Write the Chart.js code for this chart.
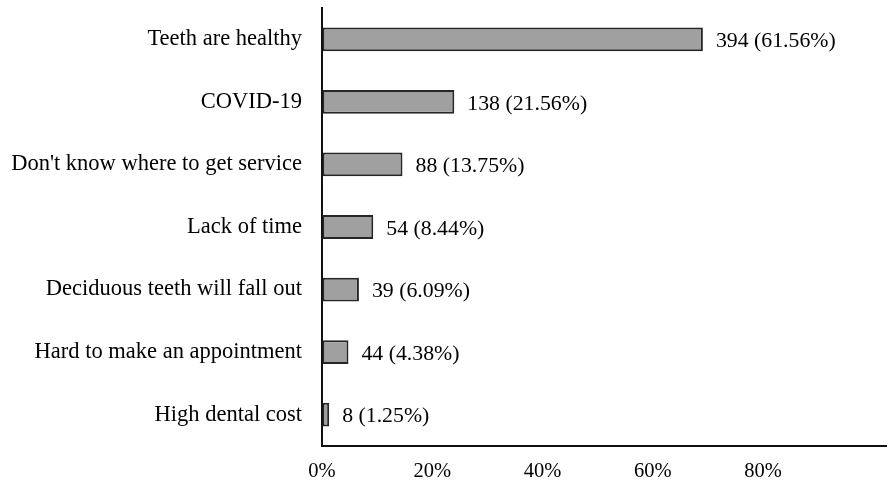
<!DOCTYPE html>
<html>
<head>
<meta charset="utf-8">
<script src="https://cdn.jsdelivr.net/npm/chart.js@4.4.1/dist/chart.umd.min.js"></script>
<style>
  html, body { margin: 0; padding: 0; background: #fff; }
  #wrap { width: 887px; height: 483px; }
</style>
</head>
<body>
<div id="wrap"><canvas id="myChart" width="887" height="483"></canvas></div>
<script>
// categories, top to bottom
const categories = [
    'Teeth are healthy',
    'COVID-19',
    "Don't know where to get service",
    'Lack of time',
    'Deciduous teeth will fall out',
    'Hard to make an appointment',
    'High dental cost'
];
// bar lengths (%)
const barValues = [69.1, 24.0, 14.6, 9.3, 6.7, 4.8, 1.3];
// printed counts and percentages beside the bars
const counts = [394, 138, 88, 54, 39, 44, 8];
const percents = ['61.56', '21.56', '13.75', '8.44', '6.09', '4.38', '1.25'];
const tickLabels = ['0%', '20%', '40%', '60%', '80%'];

const FONT = "'Liberation Serif', 'Times New Roman', serif";

// draws "n (p%)" to the right of each bar
const barLabels = {
    id: 'barLabels',
    afterDatasetsDraw(chart) {
        const ctx = chart.ctx;
        const meta = chart.getDatasetMeta(0);
        ctx.save();
        ctx.font = '21.8px ' + FONT;
        ctx.fillStyle = '#000';
        ctx.textAlign = 'left';
        ctx.textBaseline = 'middle';
        meta.data.forEach((bar, i) => {
            ctx.fillText(counts[i] + ' (' + percents[i] + '%)', bar.x + 13, bar.y + 2);
        });
        ctx.restore();
    }
};

const ctx = document.getElementById('myChart').getContext('2d');
const myChart = new Chart(ctx, {
    type: 'bar',
    data: {
        labels: categories,
        datasets: [{
            data: barValues,
            backgroundColor: '#a0a0a0',
            borderColor: '#262626',
            borderWidth: 2,
            borderSkipped: false,
            categoryPercentage: 1,
            barPercentage: 0.38
        }]
    },
    options: {
        indexAxis: 'y',
        responsive: false,
        animation: false,
        layout: { padding: { top: 8, right: 0, left: 0, bottom: 0 } },
        plugins: {
            legend: { display: false },
            tooltip: { enabled: false }
        },
        scales: {
            x: {
                min: 0,
                max: 102.5,
                grid: { display: true, drawOnChartArea: false, drawTicks: false },
                border: { display: true, color: '#111', width: 2 },
                ticks: {
                    stepSize: 20,
                    padding: 13,
                    color: '#000',
                    font: { family: FONT, size: 20.5 },
                    callback: (v) => {
                        const idx = v / 20;
                        return Number.isInteger(idx) && idx < tickLabels.length ? tickLabels[idx] : '';
                    }
                },
                afterFit: (scale) => {
                    scale.height = 37;
                    scale.paddingLeft = 0;
                    scale.paddingRight = 0;
                }
            },
            y: {
                grid: { display: true, drawOnChartArea: false, drawTicks: false },
                border: { display: true, color: '#111', width: 2 },
                ticks: {
                    padding: 20,
                    color: '#000',
                    font: { family: FONT, size: 22.5 }
                },
                afterFit: (scale) => {
                    scale.width = 322;
                    scale.paddingTop = 0;
                    scale.paddingBottom = 0;
                }
            }
        }
    },
    plugins: [barLabels]
});
</script>
</body>
</html>
